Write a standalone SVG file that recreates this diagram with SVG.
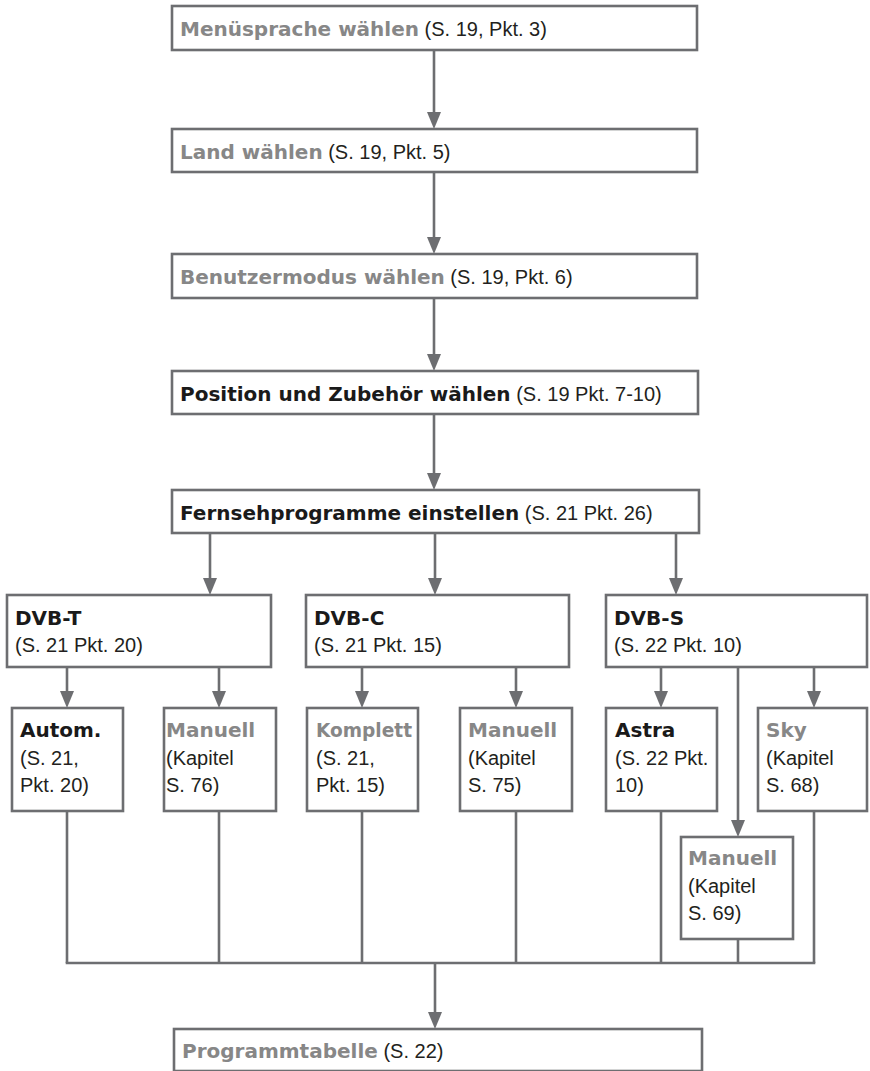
<svg xmlns="http://www.w3.org/2000/svg" width="870" height="1071" viewBox="0 0 870 1071">
<defs>
<style>
.box{fill:#fff;stroke:#6d6e71;stroke-width:2.6}
.ln{fill:none;stroke:#6d6e71;stroke-width:2.6}
text{font-family:"Liberation Sans",Arial,sans-serif;font-size:20px;fill:#231f20}
.b{font-family:"DejaVu Sans",sans-serif;font-weight:bold}
.g{fill:#878787}
.k{fill:#1a1a1a}
</style>
<marker id="ah" markerUnits="userSpaceOnUse" markerWidth="14" markerHeight="18" refX="7" refY="17" orient="auto-start-reverse" viewBox="0 0 14 18">
<path d="M0,0 L14,0 L7,17 Z" fill="#6d6e71" transform="rotate(0)"/>
</marker>
</defs>
<g id="connectors">
<line class="ln" x1="434" y1="50" x2="434" y2="112"/>
<path d="M427,112 L441,112 L434,129 Z" fill="#6d6e71"/>
<line class="ln" x1="434" y1="172" x2="434" y2="237"/>
<path d="M427,237 L441,237 L434,254 Z" fill="#6d6e71"/>
<line class="ln" x1="434" y1="298" x2="434" y2="354"/>
<path d="M427,354 L441,354 L434,371 Z" fill="#6d6e71"/>
<line class="ln" x1="434" y1="414" x2="434" y2="473"/>
<path d="M427,473 L441,473 L434,490 Z" fill="#6d6e71"/>
<line class="ln" x1="210" y1="533" x2="210" y2="578"/>
<path d="M203,578 L217,578 L210,595 Z" fill="#6d6e71"/>
<line class="ln" x1="435" y1="533" x2="435" y2="578"/>
<path d="M428,578 L442,578 L435,595 Z" fill="#6d6e71"/>
<line class="ln" x1="676" y1="533" x2="676" y2="578"/>
<path d="M669,578 L683,578 L676,595 Z" fill="#6d6e71"/>
<line class="ln" x1="67" y1="667" x2="67" y2="691"/>
<path d="M60,691 L74,691 L67,708 Z" fill="#6d6e71"/>
<line class="ln" x1="219" y1="667" x2="219" y2="691"/>
<path d="M212,691 L226,691 L219,708 Z" fill="#6d6e71"/>
<line class="ln" x1="362" y1="667" x2="362" y2="691"/>
<path d="M355,691 L369,691 L362,708 Z" fill="#6d6e71"/>
<line class="ln" x1="516" y1="667" x2="516" y2="691"/>
<path d="M509,691 L523,691 L516,708 Z" fill="#6d6e71"/>
<line class="ln" x1="661" y1="667" x2="661" y2="691"/>
<path d="M654,691 L668,691 L661,708 Z" fill="#6d6e71"/>
<line class="ln" x1="814" y1="667" x2="814" y2="691"/>
<path d="M807,691 L821,691 L814,708 Z" fill="#6d6e71"/>
<line class="ln" x1="738" y1="667" x2="738" y2="820"/>
<path d="M731,820 L745,820 L738,837 Z" fill="#6d6e71"/>
<line class="ln" x1="67" y1="811" x2="67" y2="963"/>
<line class="ln" x1="219" y1="811" x2="219" y2="963"/>
<line class="ln" x1="362" y1="811" x2="362" y2="963"/>
<line class="ln" x1="516" y1="811" x2="516" y2="963"/>
<line class="ln" x1="661" y1="811" x2="661" y2="963"/>
<line class="ln" x1="814" y1="811" x2="814" y2="963"/>
<line class="ln" x1="738" y1="939" x2="738" y2="963"/>
<line class="ln" x1="65.7" y1="963" x2="815.3" y2="963"/>
<line class="ln" x1="435" y1="963" x2="435" y2="1012"/>
<path d="M428,1012 L442,1012 L435,1029 Z" fill="#6d6e71"/>
</g>
<g id="n1"><rect class="box" x="172" y="6" width="525" height="44"/>
<text x="180" y="36"><tspan class="b g">Menüsprache wählen</tspan> <tspan>(S. 19, Pkt. 3)</tspan></text></g>
<g id="n2"><rect class="box" x="172" y="129" width="525" height="43"/>
<text x="180" y="159"><tspan class="b g">Land wählen</tspan> <tspan>(S. 19, Pkt. 5)</tspan></text></g>
<g id="n3"><rect class="box" x="172" y="254" width="525" height="44"/>
<text x="180" y="284"><tspan class="b g">Benutzermodus wählen</tspan> <tspan>(S. 19, Pkt. 6)</tspan></text></g>
<g id="n4"><rect class="box" x="172" y="371" width="526" height="43"/>
<text x="180" y="401"><tspan class="b k">Position und Zubehör wählen</tspan> <tspan>(S. 19 Pkt. 7-10)</tspan></text></g>
<g id="n5"><rect class="box" x="172" y="490" width="527" height="43"/>
<text x="180" y="520"><tspan class="b k">Fernsehprogramme einstellen</tspan> <tspan>(S. 21 Pkt. 26)</tspan></text></g>
<g id="dvbt"><rect class="box" x="7" y="595" width="264" height="72"/>
<text x="15" y="625" class="b k">DVB-T</text><text x="15" y="652">(S. 21 Pkt. 20)</text></g>
<g id="dvbc"><rect class="box" x="306" y="595" width="263" height="72"/>
<text x="314" y="625" class="b k">DVB-C</text><text x="314" y="652">(S. 21 Pkt. 15)</text></g>
<g id="dvbs"><rect class="box" x="606" y="595" width="261" height="72"/>
<text x="614" y="625" class="b k">DVB-S</text><text x="614" y="652">(S. 22 Pkt. 10)</text></g>
<g id="autom"><rect class="box" x="12" y="708" width="111" height="103"/>
<text x="20" y="737" class="b k">Autom.</text><text x="20" y="765">(S. 21,</text><text x="20" y="792">Pkt. 20)</text></g>
<g id="manuell76"><rect class="box" x="164" y="708" width="112" height="103"/>
<text x="166" y="737" class="b g">Manuell</text><text x="166" y="765">(Kapitel</text><text x="166" y="792">S. 76)</text></g>
<g id="komplett"><rect class="box" x="307" y="708" width="111" height="103"/>
<text x="316" y="737" class="b g" textLength="96" lengthAdjust="spacingAndGlyphs">Komplett</text><text x="316" y="765">(S. 21,</text><text x="316" y="792">Pkt. 15)</text></g>
<g id="manuell75"><rect class="box" x="460" y="708" width="112" height="103"/>
<text x="468" y="737" class="b g">Manuell</text><text x="468" y="765">(Kapitel</text><text x="468" y="792">S. 75)</text></g>
<g id="astra"><rect class="box" x="606" y="708" width="111" height="103"/>
<text x="615" y="737" class="b k">Astra</text><text x="615" y="765">(S. 22 Pkt.</text><text x="615" y="792">10)</text></g>
<g id="sky"><rect class="box" x="758" y="708" width="109" height="103"/>
<text x="766" y="737" class="b g">Sky</text><text x="766" y="765">(Kapitel</text><text x="766" y="792">S. 68)</text></g>
<g id="manuell69"><rect class="box" x="681" y="837" width="112" height="102"/>
<text x="688" y="865" class="b g">Manuell</text><text x="688" y="893">(Kapitel</text><text x="688" y="920">S. 69)</text></g>
<g id="programmtabelle"><rect class="box" x="174" y="1029" width="528" height="42"/>
<text x="182" y="1058"><tspan class="b g">Programmtabelle</tspan> <tspan>(S. 22)</tspan></text></g>
</svg>
